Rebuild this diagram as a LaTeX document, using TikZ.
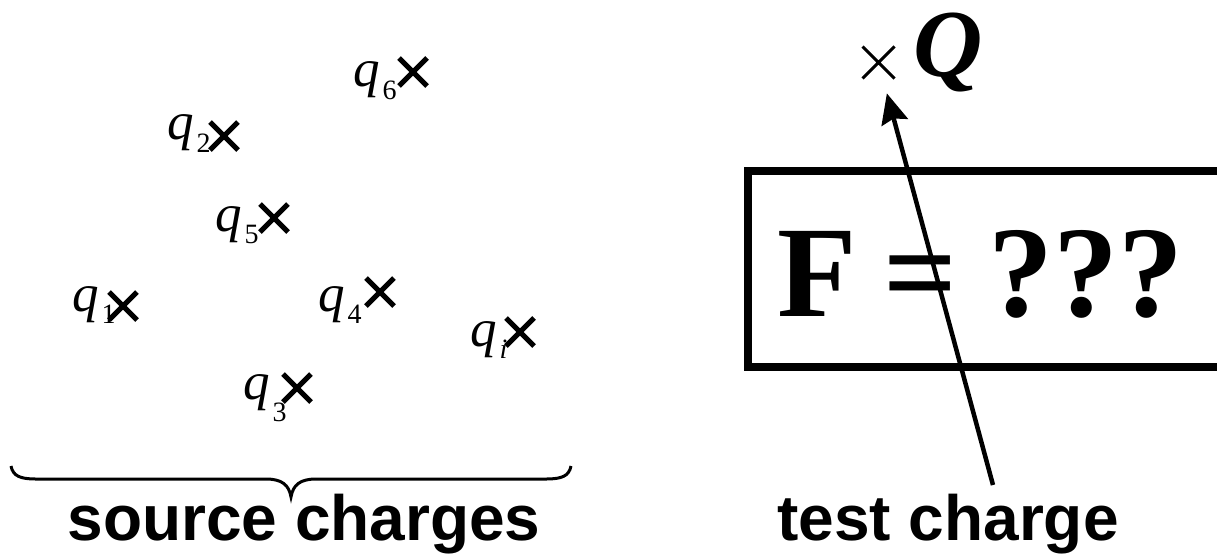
\documentclass[tikz,border=0pt]{standalone}
\usepackage{fontspec}
\setmainfont{Liberation Serif}
\newfontfamily\sansfam{Liberation Sans}
\usetikzlibrary{shapes.misc,arrows.meta}
\tikzset{
  charge/.style={cross out, draw, line width=5pt, minimum size=23pt, inner sep=0pt},
  testx/.style={cross out, draw, line width=3pt, minimum size=29pt, inner sep=0pt},
  qlabel/.style={anchor=base west, inner sep=0pt, font=\fontsize{53}{60}\selectfont\itshape},
  caption/.style={anchor=base, inner sep=0pt, font=\fontsize{64}{70}\selectfont\sansfam\bfseries},
}
\newcommand{\qsub}[2][12pt]{q\hspace{3pt}\raisebox{-#1}{\fontsize{28}{30}\selectfont\upshape #2}}
\begin{document}
\begin{tikzpicture}[x=1pt,y=-1pt]
\useasboundingbox (0,0) rectangle (1217,555);
\clip (0,0) rectangle (1217,555);
% source charges
\node[qlabel] (l6) at (353,86) {\qsub[13pt]{6}};
\node[charge] (x6) at (413,72) {};
\node[qlabel] (l2) at (167,139) {\qsub[13pt]{2}};
\node[charge] (x2) at (224,136) {};
\node[qlabel] (l5) at (215,231) {\qsub{5}};
\node[charge] (x5) at (274,218) {};
\node[qlabel] (l1) at (72,311) {\qsub{1}};
\node[charge] (x1) at (123,306) {};
\node[qlabel] (l4) at (318,311) {\qsub{4}};
\node[charge] (x4) at (380,292) {};
\node[qlabel] (li) at (470,346) {\qsub{\itshape i}};
\node[charge] (xi) at (520,332) {};
\node[qlabel] (l3) at (243,399) {\qsub[22pt]{3}};
\node[charge] (x3) at (297,388) {};
% brace
\draw[line width=3pt] (11,466) .. controls (13,476) and (20,479) .. (36,479) -- (266,479)
  .. controls (282,479) and (289,485) .. (291,497)
  .. controls (293,485) and (300,479) .. (316,479) -- (546,479)
  .. controls (562,479) and (569,476) .. (571,466);
\node[caption] (src) at (304,540) {source charges};
% test charge
\node[testx] (xQ) at (878.5,62.5) {};
\node[anchor=base west, inner sep=0pt, text height=62pt, font=\fontsize{96}{100}\selectfont\bfseries\itshape] (Q) at (913,76) {Q};
\node[draw, line width=8pt, anchor=north west, minimum width=520pt, minimum height=196pt, inner sep=0pt] (box) at (743.5,167) {};
\node[anchor=base west, inner sep=0pt, font=\fontsize{130}{140}\selectfont\bfseries] (eq) at (777,316) {F\hspace{27pt}=\hspace{31pt}???};
\coordinate (tail) at (993,485);
\draw[line width=4.5pt, -{Stealth[length=30pt,width=27pt,inset=4pt]}, shorten >=32pt] (tail) -- (xQ.center);
\node[caption] (tst) at (948,540) {test charge};
\end{tikzpicture}
\end{document}
